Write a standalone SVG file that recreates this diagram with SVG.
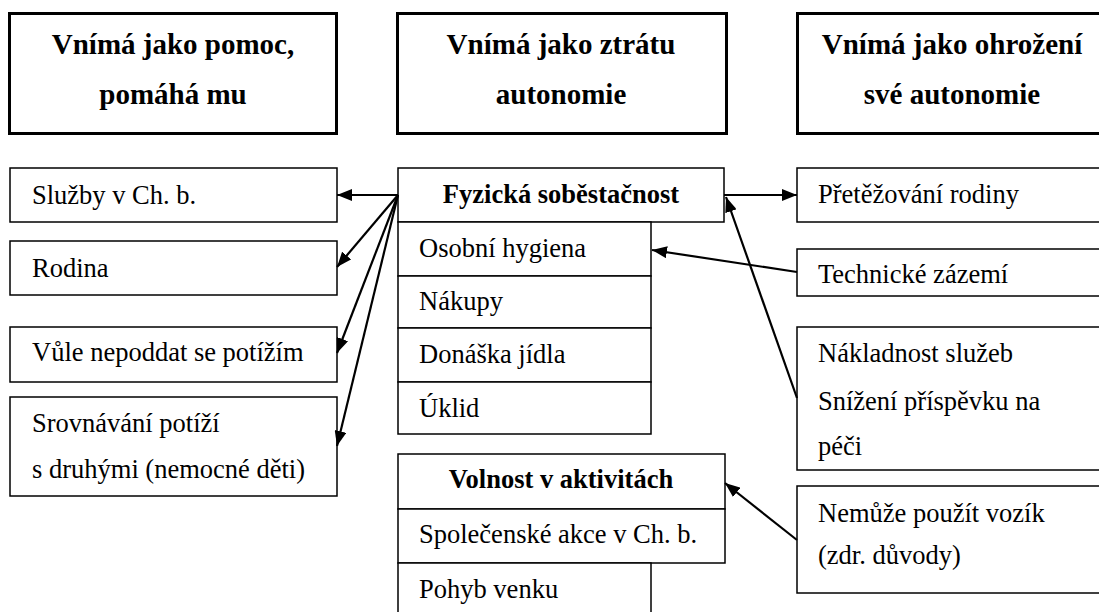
<svg xmlns="http://www.w3.org/2000/svg" width="1099" height="612" viewBox="0 0 1099 612">
<style>
.hdr{fill:#fff;stroke:#000;stroke-width:3}
.box{fill:#fff;stroke:#000;stroke-width:1.5}
.ht{font-family:"Liberation Serif","Times New Roman",serif;font-weight:bold;font-size:29px;text-anchor:middle;fill:#000}
.bt{font-family:"Liberation Serif","Times New Roman",serif;font-weight:bold;font-size:26.5px;text-anchor:middle;fill:#000}
.t{font-family:"Liberation Serif","Times New Roman",serif;font-size:26.5px;fill:#000}
.c{fill:none;stroke:#000;stroke-width:2.2;marker-end:url(#ah)}
</style>
<defs>
<marker id="ah" viewBox="0 0 15 12" refX="15" refY="6" markerWidth="15" markerHeight="12" markerUnits="userSpaceOnUse" orient="auto">
<path d="M0,0 L15,6 L0,12 z" fill="#000"/>
</marker>
</defs>
<rect width="1099" height="612" fill="#fff"/>

<g id="hdr-pomoc">
<rect class="hdr" x="9.5" y="13.5" width="327" height="120"/>
<text class="ht" x="173" y="54">Vnímá jako pomoc,</text>
<text class="ht" x="173" y="104">pomáhá mu</text>
</g>
<g id="hdr-ztrata">
<rect class="hdr" x="397.5" y="13.5" width="329" height="120"/>
<text class="ht" x="561" y="54">Vnímá jako ztrátu</text>
<text class="ht" x="561" y="104">autonomie</text>
</g>
<g id="hdr-ohrozeni">
<rect class="hdr" x="797.5" y="13.5" width="320" height="120"/>
<text class="ht" x="952" y="54">Vnímá jako ohrožení</text>
<text class="ht" x="952" y="104">své autonomie</text>
</g>

<g id="sluzby">
<rect class="box" x="10" y="168" width="327" height="54"/>
<text class="t" x="32" y="204">Služby v Ch. b.</text>
</g>
<g id="rodina">
<rect class="box" x="10" y="241" width="327" height="54"/>
<text class="t" x="32" y="277">Rodina</text>
</g>
<g id="vule">
<rect class="box" x="10" y="327" width="327" height="55"/>
<text class="t" x="32" y="361">Vůle nepoddat se potížím</text>
</g>
<g id="srovnavani">
<rect class="box" x="10" y="397" width="327" height="99"/>
<text class="t" x="32" y="432">Srovnávání potíží</text>
<text class="t" x="32" y="478">s druhými (nemocné děti)</text>
</g>

<g id="fyzicka">
<rect class="box" x="398" y="168" width="326" height="54"/>
<text class="bt" x="561" y="203">Fyzická soběstačnost</text>
</g>
<g id="hygiena">
<rect class="box" x="398" y="222" width="253" height="54"/>
<text class="t" x="419" y="257">Osobní hygiena</text>
</g>
<g id="nakupy">
<rect class="box" x="398" y="276" width="253" height="52"/>
<text class="t" x="419" y="310">Nákupy</text>
</g>
<g id="donaska">
<rect class="box" x="398" y="328" width="253" height="54"/>
<text class="t" x="419" y="363">Donáška jídla</text>
</g>
<g id="uklid">
<rect class="box" x="398" y="382" width="253" height="52"/>
<text class="t" x="419" y="417">Úklid</text>
</g>

<g id="volnost">
<rect class="box" x="398" y="454" width="327" height="55"/>
<text class="bt" x="561" y="488">Volnost v aktivitách</text>
</g>
<g id="spolecenske">
<rect class="box" x="398" y="509" width="327" height="54"/>
<text class="t" x="419" y="543">Společenské akce v Ch. b.</text>
</g>
<g id="pohyb">
<rect class="box" x="398" y="563" width="253" height="60"/>
<text class="t" x="419" y="598">Pohyb venku</text>
</g>

<g id="pretezovani">
<rect class="box" x="797" y="168" width="320" height="54"/>
<text class="t" x="818" y="203">Přetěžování rodiny</text>
</g>
<g id="technicke">
<rect class="box" x="797" y="249" width="320" height="47"/>
<text class="t" x="818" y="283">Technické zázemí</text>
</g>
<g id="nakladnost">
<rect class="box" x="797" y="327" width="320" height="143"/>
<text class="t" x="818" y="362">Nákladnost služeb</text>
<text class="t" x="818" y="410">Snížení příspěvku na</text>
<text class="t" x="818" y="455">péči</text>
</g>
<g id="nemuze">
<rect class="box" x="797" y="486" width="320" height="107"/>
<text class="t" x="818" y="522">Nemůže použít vozík</text>
<text class="t" x="818" y="564">(zdr. důvody)</text>
</g>

<g id="connectors">
<line class="c" x1="398" y1="195" x2="337" y2="195"/>
<line class="c" x1="398" y1="195" x2="337" y2="267"/>
<line class="c" x1="398" y1="195" x2="337" y2="353"/>
<line class="c" x1="398" y1="195" x2="337" y2="446"/>
<line class="c" x1="724" y1="195" x2="797" y2="195"/>
<line class="c" x1="797" y1="272" x2="652" y2="250"/>
<line class="c" x1="797" y1="398" x2="726" y2="197"/>
<line class="c" x1="797" y1="540" x2="725" y2="483"/>
</g>
</svg>
